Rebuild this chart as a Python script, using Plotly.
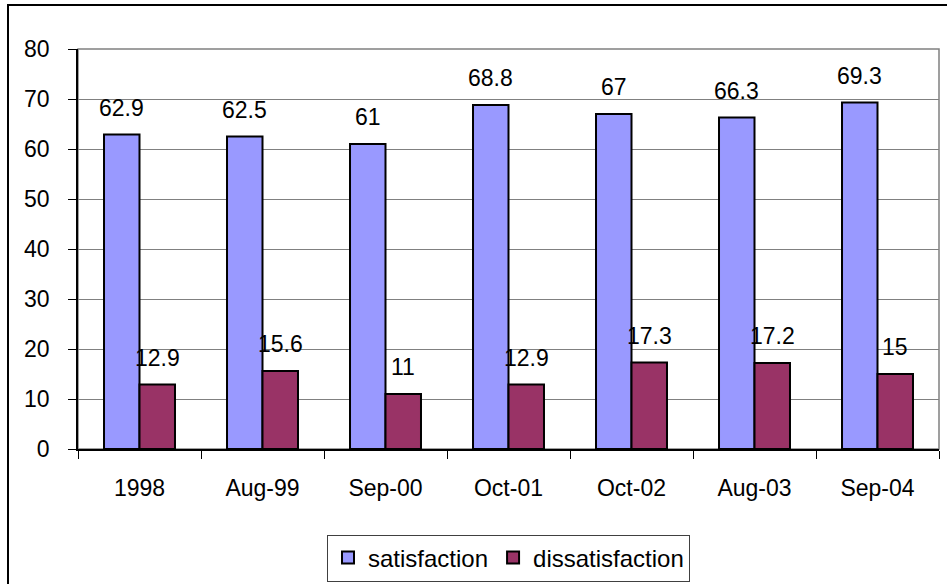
import plotly.graph_objects as go

# Survey periods and results (percent)
periods = ["1998", "Aug-99", "Sep-00", "Oct-01", "Oct-02", "Aug-03", "Sep-04"]
satisfaction = [62.9, 62.5, 61, 68.8, 67, 66.3, 69.3]
dissatisfaction = [12.9, 15.6, 11, 12.9, 17.3, 17.2, 15]
y_ticks = [0, 10, 20, 30, 40, 50, 60, 70, 80]

FONT = "Liberation Sans, Arial, sans-serif"
BAR_GAP = 0.423

fig = go.Figure()
fig.add_trace(go.Bar(
    name="satisfaction", x=periods, y=satisfaction,
    marker=dict(color="#9999FF", line=dict(color="black", width=2)),
))
fig.add_trace(go.Bar(
    name="dissatisfaction", x=periods, y=dissatisfaction,
    marker=dict(color="#993366", line=dict(color="black", width=2)),
))

# value labels floating above each bar
half = (1 - BAR_GAP) / 4
for i, (s, d) in enumerate(zip(satisfaction, dissatisfaction)):
    for xv, val in ((i - half, s), (i + half, d)):
        fig.add_annotation(
            x=xv, y=val, text=f"{val:g}", showarrow=False,
            yshift=27, yanchor="middle", xanchor="center",
            font=dict(family=FONT, size=23, color="black"),
        )

# plot area frame
fig.add_shape(type="rect", xref="paper", yref="paper", x0=0, y0=0, x1=1, y1=1,
              line=dict(color="#808080", width=1.5), layer="below")
# chart area frame
fig.add_shape(type="rect", xref="paper", yref="paper",
              x0=(8 - 78) / 861, y0=(449 - 600) / 400,
              x1=(960 - 78) / 861, y1=(449 - 5) / 400,
              line=dict(color="black", width=2), layer="below")

fig.update_layout(
    width=947, height=584,
    margin=dict(l=78, r=8, t=49, b=135, autoexpand=False),
    paper_bgcolor="white", plot_bgcolor="white",
    barmode="group", bargap=BAR_GAP, bargroupgap=0,
    font=dict(family=FONT, size=23, color="black"),
    showlegend=True,
    legend=dict(
        orientation="h", x=0.5, xanchor="center",
        yref="container", y=1 - 558 / 584, yanchor="middle",
        bordercolor="#404040", borderwidth=1, bgcolor="white",
        font=dict(family=FONT, size=24, color="black"),
        itemsizing="constant", itemwidth=30,
    ),
    xaxis=dict(
        type="category", tickson="boundaries",
        ticks="outside", ticklen=8, tickcolor="black", tickwidth=1,
        showline=True, linecolor="black", linewidth=1.5,
        showgrid=False, tickfont=dict(family=FONT, size=23),
        ticklabelstandoff=18,
    ),
    yaxis=dict(
        range=[0, 80], tickvals=y_ticks,
        ticks="outside", ticklen=8, tickcolor="black", tickwidth=1,
        showline=True, linecolor="black", linewidth=1.5,
        showgrid=True, gridcolor="#808080", gridwidth=1,
        zeroline=False, tickfont=dict(family=FONT, size=23),
        ticklabelstandoff=14,
    ),
)

fig.write_html("out.html")
